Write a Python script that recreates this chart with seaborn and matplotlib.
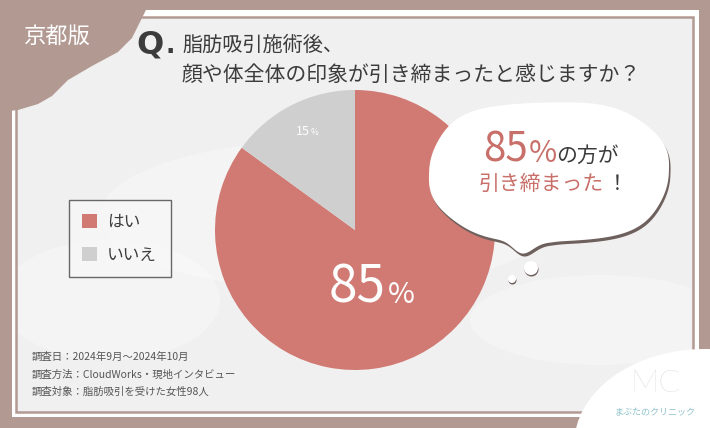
import numpy as np
import matplotlib
matplotlib.use("Agg")
import matplotlib.pyplot as plt
import seaborn as sns
from matplotlib.patches import Rectangle, Polygon, Circle, Ellipse

# data
answers = ["はい", "いいえ"]
shares = [85, 15]
slice_colors = ["#D07A73", "#CFCFCF"]

edition = "京都版"
title_lines = ["脂肪吸引施術後、", "顔や体全体の印象が引き締まったと感じますか？"]
survey_notes = ["調査日：2024年9月〜2024年10月",
                "調査方法：CloudWorks・現地インタビュー",
                "調査対象：脂肪吸引を受けた女性98人"]
clinic_name = "まぶたのクリニック"

W, H = 710, 428
BROWN = "#B29A93"
INK = "#3C3C3C"
RED_TXT = "#C96F69"

sns.set_theme(style="white")
plt.rcParams["font.family"] = ["Noto Sans CJK JP", "DejaVu Sans"]

fig = plt.figure(figsize=(W / 100, H / 100), dpi=100)
fig.patch.set_facecolor(BROWN)


def px_axes(z):
    ax = fig.add_axes([0, 0, 1, 1], zorder=z)
    ax.set_xlim(0, W)
    ax.set_ylim(H, 0)
    ax.axis("off")
    return ax


# background frame
bg = px_axes(0)
bg.add_patch(Rectangle((12, 10), 687, 407, fc="white", ec="none"))
inner = Rectangle((16, 16.5), 677, 395, fc="#F1F0F0", ec=BROWN, lw=1.8, zorder=1)
bg.add_patch(inner)
for ex, ey, ew, eh in [(330, 215, 460, 150), (600, 320, 260, 90), (110, 300, 220, 120)]:
    blob = Ellipse((ex, ey), ew, eh, fc="white", ec="none", alpha=0.3, zorder=1.5)
    bg.add_patch(blob)
    blob.set_clip_path(Rectangle((18, 18.5), 673, 391, transform=bg.transData))

corner = [(0, 0), (150, 0), (146, 10), (140, 22), (132, 38), (118, 52), (92, 66),
          (68, 80), (52, 96), (38, 104), (18, 110), (0, 112)]
bg.add_patch(Polygon(corner, closed=True, fc=BROWN, ec="none", zorder=2))
bg.text(57, 36, edition, color="white", fontsize=16, ha="center", va="center", zorder=3)

bg.add_patch(Ellipse((705, 445), 262, 192, fc="white", ec="none", zorder=2))
bg.text(655, 384, "MC", color="#C9C9C9", fontsize=23, family="Lato",
        fontweight="light", ha="center", va="center", zorder=3)
bg.text(655, 413, clinic_name, color="#8FC3CB", fontsize=6.5, ha="center", va="center",
        zorder=3)

# pie
cx, cy, r = 355, 230, 140
pax = fig.add_axes([(cx - r) / W, (H - cy - r) / H, 2 * r / W, 2 * r / H], zorder=1)
wedges, _ = pax.pie(shares, colors=slice_colors, startangle=90, counterclock=False,
                    radius=1, wedgeprops=dict(linewidth=0))
pax.set_xlim(-1, 1)
pax.set_ylim(-1, 1)
pax.set_aspect("equal")

g = wedges[1]
mid = np.deg2rad((g.theta1 + g.theta2) / 2)
pax.text(0.76 * np.cos(mid) + 0.02, 0.76 * np.sin(mid), f"{shares[1]}", color="white",
         fontsize=9, ha="right", va="baseline")
pax.text(0.76 * np.cos(mid) + 0.03, 0.76 * np.sin(mid), "%", color="white",
         fontsize=6, ha="left", va="baseline")
pax.text(0.22, -0.52, f"{shares[0]}", color="white", fontsize=37,
         ha="right", va="baseline")
pax.text(0.235, -0.52, "%", color="white", fontsize=21,
         ha="left", va="baseline")

# overlay: title, bubble, notes
top = px_axes(2)
top.text(136, 45, "Q", color=INK, fontsize=23, fontweight="bold", family="DejaVu Sans",
         ha="left", va="center")
top.text(165, 53, ".", color=INK, fontsize=18, fontweight="bold", family="DejaVu Sans",
         ha="left", va="baseline")
top.text(182, 45, title_lines[0], color=INK, fontsize=14.5, ha="left", va="center")
top.text(182, 75, title_lines[1], color=INK, fontsize=15, ha="left", va="center")

t = np.linspace(0, 2 * np.pi, 600)
wave = 1 + 0.012 * np.cos(6 * t + 0.9)
ct, st = np.cos(t), np.sin(t)
bx = 549 + 119 * np.sign(ct) * np.abs(ct) ** 0.8 * wave
by = 172 + 70 * np.sign(st) * np.abs(st) ** 0.8 * wave
by = by + 12 * np.exp(-((t - 1.72) / 0.1) ** 2)
cloud = np.column_stack([bx, by])
top.add_patch(Polygon(cloud + [1.5, 3], closed=True, fc="#6E605C", ec="none"))
top.add_patch(Polygon(cloud, closed=True, fc="white", ec="none"))
for (ox, oy), rad in [((531, 268), 7), ((512, 279), 4)]:
    top.add_patch(Circle((ox + 0.5, oy + 1.5), rad, fc="#6E605C", ec="none"))
    top.add_patch(Circle((ox, oy), rad, fc="white", ec="none"))

top.text(528, 162, f"{shares[0]}", color=RED_TXT, fontsize=29,
         ha="right", va="baseline")
top.text(529, 162, "%", color=RED_TXT, fontsize=22,
         ha="left", va="baseline")
top.text(556, 162, "の方が", color=INK, fontsize=15, ha="left", va="baseline")
top.text(478, 190, "引き締まった", color=RED_TXT, fontsize=15, ha="left", va="baseline")
top.text(607, 190, "！", color=INK, fontsize=15, ha="left", va="baseline")

for i, note in enumerate(survey_notes):
    top.text(32, 357 + 17.5 * i, note, color="#555555", fontsize=7.5, ha="left", va="center")

leg = fig.legend(wedges, answers, loc="upper left", bbox_to_anchor=(69 / W, 1 - 200 / H),
                 fontsize=12, frameon=True, fancybox=False, handlelength=0.9,
                 handleheight=0.9, labelspacing=1.0, borderpad=0.8, handletextpad=0.6,
                 borderaxespad=0)
leg.get_frame().set_edgecolor("#444444")
leg.get_frame().set_linewidth(1.0)
leg.get_frame().set_facecolor("#F7F7F7")
for txt in leg.get_texts():
    txt.set_color(INK)

fig.savefig("out.png", dpi=100, facecolor=fig.get_facecolor())
